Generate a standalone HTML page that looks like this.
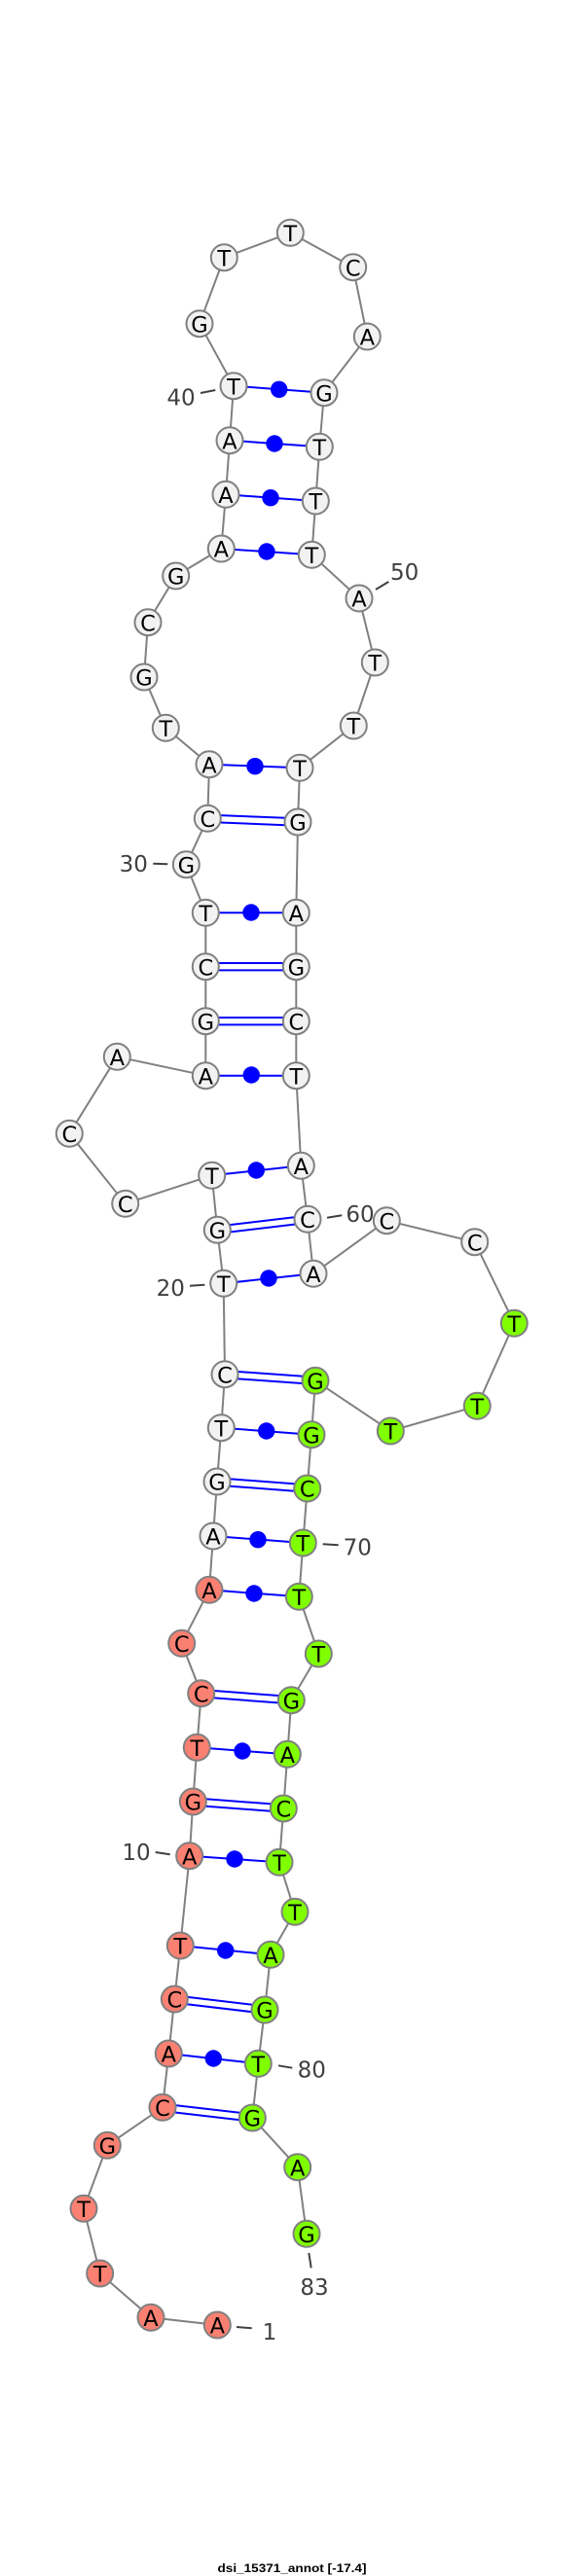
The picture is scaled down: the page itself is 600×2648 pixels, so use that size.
<!DOCTYPE html>
<html><head><meta charset="utf-8"><style>
html,body{margin:0;padding:0;background:#fff}
svg{display:block}
.b{fill:none;stroke:#808080;stroke-width:2}
.p line{stroke:#0000ff;stroke-width:2}
.d circle{fill:#0000ff}
.w,.s,.g{stroke:#808080;stroke-width:2}
.w{fill:#f2f2f2}.s{fill:#fa8072}.g{fill:#7fff00}
.n text{font:22.5px "DejaVu Sans",sans-serif;text-anchor:middle;fill:#000}
.t line{stroke:#404040;stroke-width:2}
.l text{font:23px "DejaVu Sans",sans-serif;text-anchor:middle;fill:#404040}
</style></head><body>
<svg width="600" height="2648" viewBox="0 0 600 2648" xmlns="http://www.w3.org/2000/svg">
<rect width="600" height="2648" fill="#fff"/>
<polyline class="b" points="223.3,2390 155,2382.3 102.7,2337 86,2270.3 110.3,2205.3 167,2166.3 173.3,2111 179.3,2055 185.3,2000 194.7,1907.7 198.3,1852 202.3,1796.3 206.7,1740.7 186.7,1689.3 215,1634.3 219,1579 223,1523 227.3,1467.7 231,1412.7 229.7,1319.3 223.3,1264.3 217.7,1208.3 128.7,1237.3 71.3,1165.3 120.3,1086.3 211.3,1105.7 211.3,1049.7 211.3,993.7 211.3,938.3 191.3,888.7 213.3,841.3 215,785.7 170.3,748.3 148,696 152,639.7 180.7,592 227.3,564 232,508.3 236,452.7 240,396.7 205,332.7 230.3,264.7 298.3,239.3 362.7,274.7 377.3,346 333,403.7 328.3,459.3 324.3,515 320.3,570.3 369,615 385.3,681 363.3,746 308,789.3 306,845 304.3,938.3 304.3,993.7 304.3,1049.7 304.3,1105.7 309.3,1198.3 316,1253.3 322,1309.3 397.3,1254.7 487.7,1276.7 528.3,1360.3 490.3,1445.3 401.3,1471 324,1419.3 320,1474.7 315.7,1530 311.3,1586 307.3,1641.3 327.3,1700 299.3,1747.7 295.3,1803.3 291.3,1859 287,1914.3 303,1965.3 278,2009.3 272,2066 265.3,2121.3 259.3,2177 305.7,2227.7 315,2296.3"/>
<g class="p">
<line x1="240" y1="396.7" x2="333" y2="403.7"/>
<line x1="236" y1="452.7" x2="328.3" y2="459.3"/>
<line x1="232" y1="508.3" x2="324.3" y2="515"/>
<line x1="227.3" y1="564" x2="320.3" y2="570.3"/>
<line x1="215" y1="785.7" x2="308" y2="789.3"/>
<line x1="213.3" y1="837.6" x2="306" y2="841.3"/><line x1="213.3" y1="845" x2="306" y2="848.7"/>
<line x1="211.3" y1="938.3" x2="304.3" y2="938.3"/>
<line x1="211.3" y1="990" x2="304.3" y2="990"/><line x1="211.3" y1="997.4" x2="304.3" y2="997.4"/>
<line x1="211.3" y1="1046" x2="304.3" y2="1046"/><line x1="211.3" y1="1053.4" x2="304.3" y2="1053.4"/>
<line x1="211.3" y1="1105.7" x2="304.3" y2="1105.7"/>
<line x1="217.7" y1="1208.3" x2="309.3" y2="1198.3"/>
<line x1="223.3" y1="1260.6" x2="316" y2="1249.6"/><line x1="223.3" y1="1268" x2="316" y2="1257"/>
<line x1="229.7" y1="1319.3" x2="322" y2="1309.3"/>
<line x1="231" y1="1409" x2="324" y2="1415.6"/><line x1="231" y1="1416.4" x2="324" y2="1423"/>
<line x1="227.3" y1="1467.7" x2="320" y2="1474.7"/>
<line x1="223" y1="1519.3" x2="315.7" y2="1526.3"/><line x1="223" y1="1526.7" x2="315.7" y2="1533.7"/>
<line x1="219" y1="1579" x2="311.3" y2="1586"/>
<line x1="215" y1="1634.3" x2="307.3" y2="1641.3"/>
<line x1="206.7" y1="1737" x2="299.3" y2="1744"/><line x1="206.7" y1="1744.4" x2="299.3" y2="1751.4"/>
<line x1="202.3" y1="1796.3" x2="295.3" y2="1803.3"/>
<line x1="198.3" y1="1848.3" x2="291.3" y2="1855.3"/><line x1="198.3" y1="1855.7" x2="291.3" y2="1862.7"/>
<line x1="194.7" y1="1907.7" x2="287" y2="1914.3"/>
<line x1="185.3" y1="2000" x2="278" y2="2009.3"/>
<line x1="179.3" y1="2051.3" x2="272" y2="2062.3"/><line x1="179.3" y1="2058.7" x2="272" y2="2069.7"/>
<line x1="173.3" y1="2111" x2="265.3" y2="2121.3"/>
<line x1="167" y1="2162.6" x2="259.3" y2="2173.3"/><line x1="167" y1="2170" x2="259.3" y2="2180.7"/>
</g>
<g class="d">
<circle cx="286.7" cy="400.3" r="8.7"/><circle cx="282" cy="456" r="8.7"/><circle cx="278" cy="511.7" r="8.7"/><circle cx="274" cy="567" r="8.7"/><circle cx="262" cy="787.7" r="8.7"/><circle cx="258" cy="938" r="8.7"/><circle cx="258.3" cy="1105" r="8.7"/><circle cx="263.3" cy="1203" r="8.7"/><circle cx="276" cy="1314" r="8.7"/><circle cx="273.7" cy="1471" r="8.7"/><circle cx="265" cy="1582.7" r="8.7"/><circle cx="261" cy="1638" r="8.7"/><circle cx="249" cy="1800" r="8.7"/><circle cx="241" cy="1911" r="8.7"/><circle cx="231.7" cy="2005" r="8.7"/><circle cx="219.3" cy="2116" r="8.7"/>
</g>
<g class="n">
<circle class="s" cx="223.3" cy="2390" r="13.5"/><text x="223.3" y="2398.7">A</text>
<circle class="s" cx="155" cy="2382.3" r="13.5"/><text x="155" y="2391">A</text>
<circle class="s" cx="102.7" cy="2337" r="13.5"/><text x="102.7" y="2345.7">T</text>
<circle class="s" cx="86" cy="2270.3" r="13.5"/><text x="86" y="2279">T</text>
<circle class="s" cx="110.3" cy="2205.3" r="13.5"/><text x="110.3" y="2214">G</text>
<circle class="s" cx="167" cy="2166.3" r="13.5"/><text x="167" y="2175">C</text>
<circle class="s" cx="173.3" cy="2111" r="13.5"/><text x="173.3" y="2119.7">A</text>
<circle class="s" cx="179.3" cy="2055" r="13.5"/><text x="179.3" y="2063.7">C</text>
<circle class="s" cx="185.3" cy="2000" r="13.5"/><text x="185.3" y="2008.7">T</text>
<circle class="s" cx="194.7" cy="1907.7" r="13.5"/><text x="194.7" y="1916.4">A</text>
<circle class="s" cx="198.3" cy="1852" r="13.5"/><text x="198.3" y="1860.7">G</text>
<circle class="s" cx="202.3" cy="1796.3" r="13.5"/><text x="202.3" y="1805">T</text>
<circle class="s" cx="206.7" cy="1740.7" r="13.5"/><text x="206.7" y="1749.4">C</text>
<circle class="s" cx="186.7" cy="1689.3" r="13.5"/><text x="186.7" y="1698">C</text>
<circle class="s" cx="215" cy="1634.3" r="13.5"/><text x="215" y="1643">A</text>
<circle class="w" cx="219" cy="1579" r="13.5"/><text x="219" y="1587.7">A</text>
<circle class="w" cx="223" cy="1523" r="13.5"/><text x="223" y="1531.7">G</text>
<circle class="w" cx="227.3" cy="1467.7" r="13.5"/><text x="227.3" y="1476.4">T</text>
<circle class="w" cx="231" cy="1412.7" r="13.5"/><text x="231" y="1421.4">C</text>
<circle class="w" cx="229.7" cy="1319.3" r="13.5"/><text x="229.7" y="1328">T</text>
<circle class="w" cx="223.3" cy="1264.3" r="13.5"/><text x="223.3" y="1273">G</text>
<circle class="w" cx="217.7" cy="1208.3" r="13.5"/><text x="217.7" y="1217">T</text>
<circle class="w" cx="128.7" cy="1237.3" r="13.5"/><text x="128.7" y="1246">C</text>
<circle class="w" cx="71.3" cy="1165.3" r="13.5"/><text x="71.3" y="1174">C</text>
<circle class="w" cx="120.3" cy="1086.3" r="13.5"/><text x="120.3" y="1095">A</text>
<circle class="w" cx="211.3" cy="1105.7" r="13.5"/><text x="211.3" y="1114.4">A</text>
<circle class="w" cx="211.3" cy="1049.7" r="13.5"/><text x="211.3" y="1058.4">G</text>
<circle class="w" cx="211.3" cy="993.7" r="13.5"/><text x="211.3" y="1002.4">C</text>
<circle class="w" cx="211.3" cy="938.3" r="13.5"/><text x="211.3" y="947">T</text>
<circle class="w" cx="191.3" cy="888.7" r="13.5"/><text x="191.3" y="897.4">G</text>
<circle class="w" cx="213.3" cy="841.3" r="13.5"/><text x="213.3" y="850">C</text>
<circle class="w" cx="215" cy="785.7" r="13.5"/><text x="215" y="794.4">A</text>
<circle class="w" cx="170.3" cy="748.3" r="13.5"/><text x="170.3" y="757">T</text>
<circle class="w" cx="148" cy="696" r="13.5"/><text x="148" y="704.7">G</text>
<circle class="w" cx="152" cy="639.7" r="13.5"/><text x="152" y="648.4">C</text>
<circle class="w" cx="180.7" cy="592" r="13.5"/><text x="180.7" y="600.7">G</text>
<circle class="w" cx="227.3" cy="564" r="13.5"/><text x="227.3" y="572.7">A</text>
<circle class="w" cx="232" cy="508.3" r="13.5"/><text x="232" y="517">A</text>
<circle class="w" cx="236" cy="452.7" r="13.5"/><text x="236" y="461.4">A</text>
<circle class="w" cx="240" cy="396.7" r="13.5"/><text x="240" y="405.4">T</text>
<circle class="w" cx="205" cy="332.7" r="13.5"/><text x="205" y="341.4">G</text>
<circle class="w" cx="230.3" cy="264.7" r="13.5"/><text x="230.3" y="273.4">T</text>
<circle class="w" cx="298.3" cy="239.3" r="13.5"/><text x="298.3" y="248">T</text>
<circle class="w" cx="362.7" cy="274.7" r="13.5"/><text x="362.7" y="283.4">C</text>
<circle class="w" cx="377.3" cy="346" r="13.5"/><text x="377.3" y="354.7">A</text>
<circle class="w" cx="333" cy="403.7" r="13.5"/><text x="333" y="412.4">G</text>
<circle class="w" cx="328.3" cy="459.3" r="13.5"/><text x="328.3" y="468">T</text>
<circle class="w" cx="324.3" cy="515" r="13.5"/><text x="324.3" y="523.7">T</text>
<circle class="w" cx="320.3" cy="570.3" r="13.5"/><text x="320.3" y="579">T</text>
<circle class="w" cx="369" cy="615" r="13.5"/><text x="369" y="623.7">A</text>
<circle class="w" cx="385.3" cy="681" r="13.5"/><text x="385.3" y="689.7">T</text>
<circle class="w" cx="363.3" cy="746" r="13.5"/><text x="363.3" y="754.7">T</text>
<circle class="w" cx="308" cy="789.3" r="13.5"/><text x="308" y="798">T</text>
<circle class="w" cx="306" cy="845" r="13.5"/><text x="306" y="853.7">G</text>
<circle class="w" cx="304.3" cy="938.3" r="13.5"/><text x="304.3" y="947">A</text>
<circle class="w" cx="304.3" cy="993.7" r="13.5"/><text x="304.3" y="1002.4">G</text>
<circle class="w" cx="304.3" cy="1049.7" r="13.5"/><text x="304.3" y="1058.4">C</text>
<circle class="w" cx="304.3" cy="1105.7" r="13.5"/><text x="304.3" y="1114.4">T</text>
<circle class="w" cx="309.3" cy="1198.3" r="13.5"/><text x="309.3" y="1207">A</text>
<circle class="w" cx="316" cy="1253.3" r="13.5"/><text x="316" y="1262">C</text>
<circle class="w" cx="322" cy="1309.3" r="13.5"/><text x="322" y="1318">A</text>
<circle class="w" cx="397.3" cy="1254.7" r="13.5"/><text x="397.3" y="1263.4">C</text>
<circle class="w" cx="487.7" cy="1276.7" r="13.5"/><text x="487.7" y="1285.4">C</text>
<circle class="g" cx="528.3" cy="1360.3" r="13.5"/><text x="528.3" y="1369">T</text>
<circle class="g" cx="490.3" cy="1445.3" r="13.5"/><text x="490.3" y="1454">T</text>
<circle class="g" cx="401.3" cy="1471" r="13.5"/><text x="401.3" y="1479.7">T</text>
<circle class="g" cx="324" cy="1419.3" r="13.5"/><text x="324" y="1428">G</text>
<circle class="g" cx="320" cy="1474.7" r="13.5"/><text x="320" y="1483.4">G</text>
<circle class="g" cx="315.7" cy="1530" r="13.5"/><text x="315.7" y="1538.7">C</text>
<circle class="g" cx="311.3" cy="1586" r="13.5"/><text x="311.3" y="1594.7">T</text>
<circle class="g" cx="307.3" cy="1641.3" r="13.5"/><text x="307.3" y="1650">T</text>
<circle class="g" cx="327.3" cy="1700" r="13.5"/><text x="327.3" y="1708.7">T</text>
<circle class="g" cx="299.3" cy="1747.7" r="13.5"/><text x="299.3" y="1756.4">G</text>
<circle class="g" cx="295.3" cy="1803.3" r="13.5"/><text x="295.3" y="1812">A</text>
<circle class="g" cx="291.3" cy="1859" r="13.5"/><text x="291.3" y="1867.7">C</text>
<circle class="g" cx="287" cy="1914.3" r="13.5"/><text x="287" y="1923">T</text>
<circle class="g" cx="303" cy="1965.3" r="13.5"/><text x="303" y="1974">T</text>
<circle class="g" cx="278" cy="2009.3" r="13.5"/><text x="278" y="2018">A</text>
<circle class="g" cx="272" cy="2066" r="13.5"/><text x="272" y="2074.7">G</text>
<circle class="g" cx="265.3" cy="2121.3" r="13.5"/><text x="265.3" y="2130">T</text>
<circle class="g" cx="259.3" cy="2177" r="13.5"/><text x="259.3" y="2185.7">G</text>
<circle class="g" cx="305.7" cy="2227.7" r="13.5"/><text x="305.7" y="2236.4">A</text>
<circle class="g" cx="315" cy="2296.3" r="13.5"/><text x="315" y="2305">G</text>
</g>
<g class="t">
<line x1="206" y1="404" x2="221.3" y2="401"/>
<line x1="386" y1="606" x2="399.3" y2="598"/>
<line x1="157.3" y1="887.7" x2="172.3" y2="888.3"/>
<line x1="195" y1="1321.7" x2="210.3" y2="1320.7"/>
<line x1="336" y1="1251.7" x2="351.3" y2="1249.3"/>
<line x1="331.7" y1="1587.3" x2="347.7" y2="1588.3"/>
<line x1="159.7" y1="1904" x2="174.7" y2="1906.3"/>
<line x1="286" y1="2123.3" x2="300.3" y2="2125.7"/>
<line x1="317.3" y1="2316" x2="319.7" y2="2331.3"/>
<line x1="243" y1="2392" x2="258.7" y2="2393.3"/>
</g>
<g class="l">
<text x="186" y="416.7">40</text>
<text x="415.7" y="596">50</text>
<text x="137.3" y="896">30</text>
<text x="175.3" y="1332">20</text>
<text x="370" y="1256">60</text>
<text x="367.3" y="1598.7">70</text>
<text x="140" y="1912">10</text>
<text x="320.3" y="2135.7">80</text>
<text x="323" y="2359">83</text>
<text x="277" y="2405">1</text>
</g>
<text x="300" y="2644" font-family="Liberation Sans, sans-serif" font-weight="bold" font-size="12" text-anchor="middle" textLength="153" lengthAdjust="spacingAndGlyphs" fill="#000">dsi_15371_annot [-17.4]</text>
</svg>
</body></html>
